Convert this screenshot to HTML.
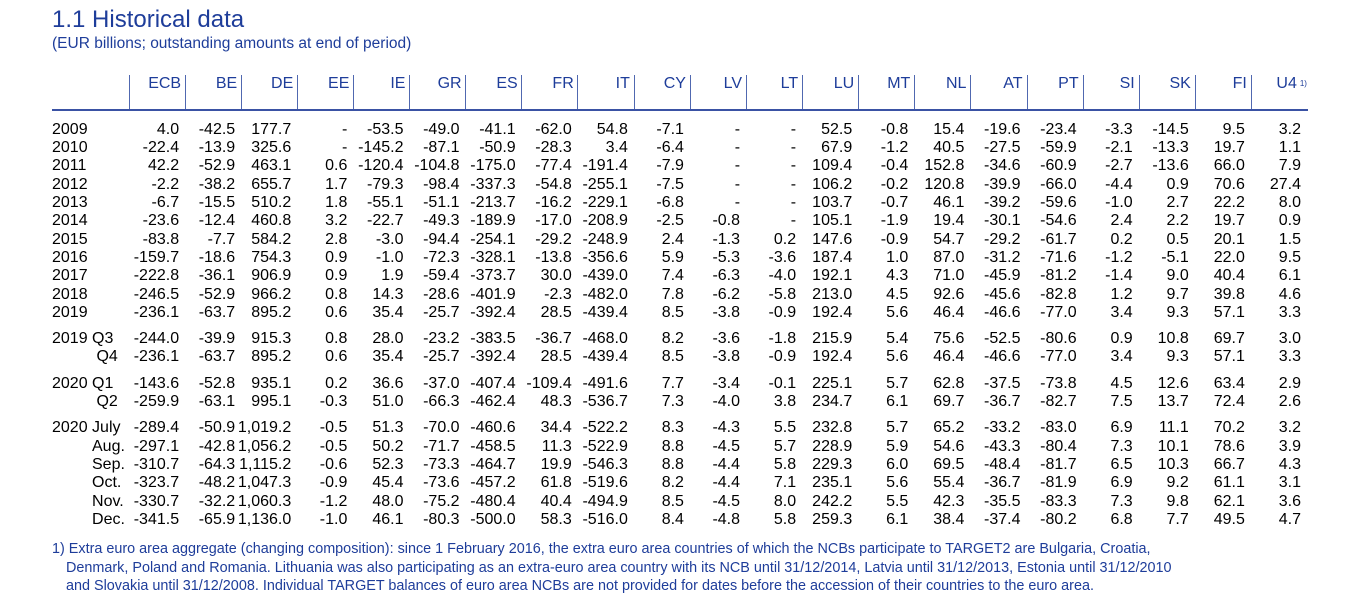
<!DOCTYPE html>
<html><head><meta charset="utf-8"><style>
body{margin:0;width:1351px;height:606px;background:#fff;position:relative;overflow:hidden;font-family:"Liberation Sans",Arial,sans-serif}
.t{position:absolute;left:52px;top:6px;font-size:24px;color:#1e3d9a;white-space:nowrap}
.s{position:absolute;left:52px;top:35px;font-size:15.5px;color:#1e3d9a;white-space:nowrap}
.r{position:absolute;left:52px;height:18px;line-height:18px;font-size:16px;display:flex;white-space:nowrap;color:#000}
.r b{font-weight:normal;width:77px;flex:none;position:relative}
.r i{font-style:normal;width:56.1px;flex:none;display:flex;justify-content:flex-end;padding-right:6px;box-sizing:border-box}
.h{color:#1e3d9a}
.h i{padding-right:4px}
.vl{position:absolute;top:75px;height:35px;width:1px;background:#5068b0}
.hl{position:absolute;left:52px;top:109px;width:1256px;height:2px;background:#3a52a4}
.f{position:absolute;left:52px;top:540px;font-size:14.4px;line-height:18.7px;color:#1e3d9a;white-space:nowrap}
sup{font-size:8px;vertical-align:5px;margin-left:3px}
</style></head><body>
<div class="t">1.1 Historical data</div>
<div class="s">(EUR billions; outstanding amounts at end of period)</div>
<div class="vl" style="left:129px"></div><div class="vl" style="left:185px"></div><div class="vl" style="left:241px"></div><div class="vl" style="left:297px"></div><div class="vl" style="left:353px"></div><div class="vl" style="left:409px"></div><div class="vl" style="left:465px"></div><div class="vl" style="left:521px"></div><div class="vl" style="left:577px"></div><div class="vl" style="left:634px"></div><div class="vl" style="left:690px"></div><div class="vl" style="left:746px"></div><div class="vl" style="left:802px"></div><div class="vl" style="left:858px"></div><div class="vl" style="left:914px"></div><div class="vl" style="left:970px"></div><div class="vl" style="left:1027px"></div><div class="vl" style="left:1083px"></div><div class="vl" style="left:1139px"></div><div class="vl" style="left:1195px"></div><div class="vl" style="left:1251px"></div>
<div class="hl"></div>
<div class="r h" style="top:75px"><b></b><i>ECB</i><i>BE</i><i>DE</i><i>EE</i><i>IE</i><i>GR</i><i>ES</i><i>FR</i><i>IT</i><i>CY</i><i>LV</i><i>LT</i><i>LU</i><i>MT</i><i>NL</i><i>AT</i><i>PT</i><i>SI</i><i>SK</i><i>FI</i><i style="padding-right:0">U4<sup>1)</sup></i></div>

<div class="r" style="top:121px"><b>2009</b><i>4.0</i><i>-42.5</i><i>177.7</i><i>-</i><i>-53.5</i><i>-49.0</i><i>-41.1</i><i>-62.0</i><i>54.8</i><i>-7.1</i><i>-</i><i>-</i><i>52.5</i><i>-0.8</i><i>15.4</i><i>-19.6</i><i>-23.4</i><i>-3.3</i><i>-14.5</i><i>9.5</i><i>3.2</i></div>
<div class="r" style="top:139px"><b>2010</b><i>-22.4</i><i>-13.9</i><i>325.6</i><i>-</i><i>-145.2</i><i>-87.1</i><i>-50.9</i><i>-28.3</i><i>3.4</i><i>-6.4</i><i>-</i><i>-</i><i>67.9</i><i>-1.2</i><i>40.5</i><i>-27.5</i><i>-59.9</i><i>-2.1</i><i>-13.3</i><i>19.7</i><i>1.1</i></div>
<div class="r" style="top:157px"><b>2011</b><i>42.2</i><i>-52.9</i><i>463.1</i><i>0.6</i><i>-120.4</i><i>-104.8</i><i>-175.0</i><i>-77.4</i><i>-191.4</i><i>-7.9</i><i>-</i><i>-</i><i>109.4</i><i>-0.4</i><i>152.8</i><i>-34.6</i><i>-60.9</i><i>-2.7</i><i>-13.6</i><i>66.0</i><i>7.9</i></div>
<div class="r" style="top:176px"><b>2012</b><i>-2.2</i><i>-38.2</i><i>655.7</i><i>1.7</i><i>-79.3</i><i>-98.4</i><i>-337.3</i><i>-54.8</i><i>-255.1</i><i>-7.5</i><i>-</i><i>-</i><i>106.2</i><i>-0.2</i><i>120.8</i><i>-39.9</i><i>-66.0</i><i>-4.4</i><i>0.9</i><i>70.6</i><i>27.4</i></div>
<div class="r" style="top:194px"><b>2013</b><i>-6.7</i><i>-15.5</i><i>510.2</i><i>1.8</i><i>-55.1</i><i>-51.1</i><i>-213.7</i><i>-16.2</i><i>-229.1</i><i>-6.8</i><i>-</i><i>-</i><i>103.7</i><i>-0.7</i><i>46.1</i><i>-39.2</i><i>-59.6</i><i>-1.0</i><i>2.7</i><i>22.2</i><i>8.0</i></div>
<div class="r" style="top:212px"><b>2014</b><i>-23.6</i><i>-12.4</i><i>460.8</i><i>3.2</i><i>-22.7</i><i>-49.3</i><i>-189.9</i><i>-17.0</i><i>-208.9</i><i>-2.5</i><i>-0.8</i><i>-</i><i>105.1</i><i>-1.9</i><i>19.4</i><i>-30.1</i><i>-54.6</i><i>2.4</i><i>2.2</i><i>19.7</i><i>0.9</i></div>
<div class="r" style="top:231px"><b>2015</b><i>-83.8</i><i>-7.7</i><i>584.2</i><i>2.8</i><i>-3.0</i><i>-94.4</i><i>-254.1</i><i>-29.2</i><i>-248.9</i><i>2.4</i><i>-1.3</i><i>0.2</i><i>147.6</i><i>-0.9</i><i>54.7</i><i>-29.2</i><i>-61.7</i><i>0.2</i><i>0.5</i><i>20.1</i><i>1.5</i></div>
<div class="r" style="top:249px"><b>2016</b><i>-159.7</i><i>-18.6</i><i>754.3</i><i>0.9</i><i>-1.0</i><i>-72.3</i><i>-328.1</i><i>-13.8</i><i>-356.6</i><i>5.9</i><i>-5.3</i><i>-3.6</i><i>187.4</i><i>1.0</i><i>87.0</i><i>-31.2</i><i>-71.6</i><i>-1.2</i><i>-5.1</i><i>22.0</i><i>9.5</i></div>
<div class="r" style="top:267px"><b>2017</b><i>-222.8</i><i>-36.1</i><i>906.9</i><i>0.9</i><i>1.9</i><i>-59.4</i><i>-373.7</i><i>30.0</i><i>-439.0</i><i>7.4</i><i>-6.3</i><i>-4.0</i><i>192.1</i><i>4.3</i><i>71.0</i><i>-45.9</i><i>-81.2</i><i>-1.4</i><i>9.0</i><i>40.4</i><i>6.1</i></div>
<div class="r" style="top:286px"><b>2018</b><i>-246.5</i><i>-52.9</i><i>966.2</i><i>0.8</i><i>14.3</i><i>-28.6</i><i>-401.9</i><i>-2.3</i><i>-482.0</i><i>7.8</i><i>-6.2</i><i>-5.8</i><i>213.0</i><i>4.5</i><i>92.6</i><i>-45.6</i><i>-82.8</i><i>1.2</i><i>9.7</i><i>39.8</i><i>4.6</i></div>
<div class="r" style="top:304px"><b>2019</b><i>-236.1</i><i>-63.7</i><i>895.2</i><i>0.6</i><i>35.4</i><i>-25.7</i><i>-392.4</i><i>28.5</i><i>-439.4</i><i>8.5</i><i>-3.8</i><i>-0.9</i><i>192.4</i><i>5.6</i><i>46.4</i><i>-46.6</i><i>-77.0</i><i>3.4</i><i>9.3</i><i>57.1</i><i>3.3</i></div>

<div class="r" style="top:330px"><b>2019 Q3</b><i>-244.0</i><i>-39.9</i><i>915.3</i><i>0.8</i><i>28.0</i><i>-23.2</i><i>-383.5</i><i>-36.7</i><i>-468.0</i><i>8.2</i><i>-3.6</i><i>-1.8</i><i>215.9</i><i>5.4</i><i>75.6</i><i>-52.5</i><i>-80.6</i><i>0.9</i><i>10.8</i><i>69.7</i><i>3.0</i></div>
<div class="r" style="top:348px"><b>&nbsp;&nbsp;&nbsp;&nbsp;&nbsp;&nbsp;&nbsp;&nbsp;&nbsp;&nbsp;Q4</b><i>-236.1</i><i>-63.7</i><i>895.2</i><i>0.6</i><i>35.4</i><i>-25.7</i><i>-392.4</i><i>28.5</i><i>-439.4</i><i>8.5</i><i>-3.8</i><i>-0.9</i><i>192.4</i><i>5.6</i><i>46.4</i><i>-46.6</i><i>-77.0</i><i>3.4</i><i>9.3</i><i>57.1</i><i>3.3</i></div>

<div class="r" style="top:375px"><b>2020 Q1</b><i>-143.6</i><i>-52.8</i><i>935.1</i><i>0.2</i><i>36.6</i><i>-37.0</i><i>-407.4</i><i>-109.4</i><i>-491.6</i><i>7.7</i><i>-3.4</i><i>-0.1</i><i>225.1</i><i>5.7</i><i>62.8</i><i>-37.5</i><i>-73.8</i><i>4.5</i><i>12.6</i><i>63.4</i><i>2.9</i></div>
<div class="r" style="top:393px"><b>&nbsp;&nbsp;&nbsp;&nbsp;&nbsp;&nbsp;&nbsp;&nbsp;&nbsp;&nbsp;Q2</b><i>-259.9</i><i>-63.1</i><i>995.1</i><i>-0.3</i><i>51.0</i><i>-66.3</i><i>-462.4</i><i>48.3</i><i>-536.7</i><i>7.3</i><i>-4.0</i><i>3.8</i><i>234.7</i><i>6.1</i><i>69.7</i><i>-36.7</i><i>-82.7</i><i>7.5</i><i>13.7</i><i>72.4</i><i>2.6</i></div>

<div class="r" style="top:419px"><b>2020 July</b><i>-289.4</i><i>-50.9</i><i>1,019.2</i><i>-0.5</i><i>51.3</i><i>-70.0</i><i>-460.6</i><i>34.4</i><i>-522.2</i><i>8.3</i><i>-4.3</i><i>5.5</i><i>232.8</i><i>5.7</i><i>65.2</i><i>-33.2</i><i>-83.0</i><i>6.9</i><i>11.1</i><i>70.2</i><i>3.2</i></div>
<div class="r" style="top:438px"><b>&nbsp;&nbsp;&nbsp;&nbsp;&nbsp;&nbsp;&nbsp;&nbsp;&nbsp;Aug.</b><i>-297.1</i><i>-42.8</i><i>1,056.2</i><i>-0.5</i><i>50.2</i><i>-71.7</i><i>-458.5</i><i>11.3</i><i>-522.9</i><i>8.8</i><i>-4.5</i><i>5.7</i><i>228.9</i><i>5.9</i><i>54.6</i><i>-43.3</i><i>-80.4</i><i>7.3</i><i>10.1</i><i>78.6</i><i>3.9</i></div>
<div class="r" style="top:456px"><b>&nbsp;&nbsp;&nbsp;&nbsp;&nbsp;&nbsp;&nbsp;&nbsp;&nbsp;Sep.</b><i>-310.7</i><i>-64.3</i><i>1,115.2</i><i>-0.6</i><i>52.3</i><i>-73.3</i><i>-464.7</i><i>19.9</i><i>-546.3</i><i>8.8</i><i>-4.4</i><i>5.8</i><i>229.3</i><i>6.0</i><i>69.5</i><i>-48.4</i><i>-81.7</i><i>6.5</i><i>10.3</i><i>66.7</i><i>4.3</i></div>
<div class="r" style="top:474px"><b>&nbsp;&nbsp;&nbsp;&nbsp;&nbsp;&nbsp;&nbsp;&nbsp;&nbsp;Oct.</b><i>-323.7</i><i>-48.2</i><i>1,047.3</i><i>-0.9</i><i>45.4</i><i>-73.6</i><i>-457.2</i><i>61.8</i><i>-519.6</i><i>8.2</i><i>-4.4</i><i>7.1</i><i>235.1</i><i>5.6</i><i>55.4</i><i>-36.7</i><i>-81.9</i><i>6.9</i><i>9.2</i><i>61.1</i><i>3.1</i></div>
<div class="r" style="top:493px"><b>&nbsp;&nbsp;&nbsp;&nbsp;&nbsp;&nbsp;&nbsp;&nbsp;&nbsp;Nov.</b><i>-330.7</i><i>-32.2</i><i>1,060.3</i><i>-1.2</i><i>48.0</i><i>-75.2</i><i>-480.4</i><i>40.4</i><i>-494.9</i><i>8.5</i><i>-4.5</i><i>8.0</i><i>242.2</i><i>5.5</i><i>42.3</i><i>-35.5</i><i>-83.3</i><i>7.3</i><i>9.8</i><i>62.1</i><i>3.6</i></div>
<div class="r" style="top:511px"><b>&nbsp;&nbsp;&nbsp;&nbsp;&nbsp;&nbsp;&nbsp;&nbsp;&nbsp;Dec.</b><i>-341.5</i><i>-65.9</i><i>1,136.0</i><i>-1.0</i><i>46.1</i><i>-80.3</i><i>-500.0</i><i>58.3</i><i>-516.0</i><i>8.4</i><i>-4.8</i><i>5.8</i><i>259.3</i><i>6.1</i><i>38.4</i><i>-37.4</i><i>-80.2</i><i>6.8</i><i>7.7</i><i>49.5</i><i>4.7</i></div>

<div class="f">1) Extra euro area aggregate (changing composition): since 1 February 2016, the extra euro area countries of which the NCBs participate to TARGET2 are Bulgaria, Croatia,<br>
<span style="padding-left:14px">Denmark, Poland and Romania. Lithuania was also participating as an extra-euro area country with its NCB until 31/12/2014, Latvia until 31/12/2013, Estonia until 31/12/2010</span><br>
<span style="padding-left:14px">and Slovakia until 31/12/2008. Individual TARGET balances of euro area NCBs are not provided for dates before the accession of their countries to the euro area.</span></div>
</body></html>
